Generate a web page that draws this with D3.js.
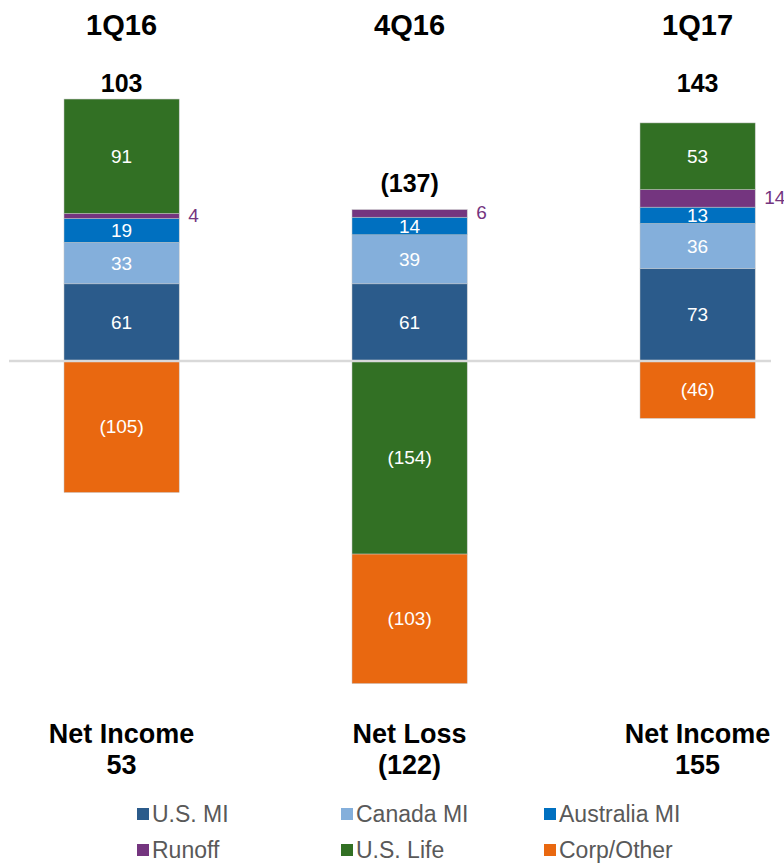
<!DOCTYPE html>
<html><head><meta charset="utf-8">
<script src="https://cdn.jsdelivr.net/npm/d3@7"></script>
<style>
html,body{margin:0;padding:0;background:#fff;}
svg{display:block;}
</style></head>
<body>
<svg id="chart" width="784" height="863"></svg>
<script>
// ---- data ----
const periods = ["1Q16", "4Q16", "1Q17"];
const seriesNames = ["U.S. MI", "Canada MI", "Australia MI", "Runoff", "U.S. Life", "Corp/Other"];
const seriesColors = ["#2b5b8b", "#84afdb", "#0070c0", "#74357f", "#327024", "#e96810"];
const usMI = [61, 61, 73];
const canadaMI = [33, 39, 36];
const australiaMI = [19, 14, 13];
const runoff = [4, 6, 14];
const usLife = [91, -154, 53];
const corpOther = [-105, -103, -46];
const resultLabels = ["Net Income", "Net Loss", "Net Income"];
const resultValues = [53, -122, 155];

const seriesValues = [usMI, canadaMI, australiaMI, runoff, usLife, corpOther];
const rows = periods.map((p, i) => {
  const r = {period: p};
  seriesNames.forEach((s, j) => r[s] = seriesValues[j][i]);
  return r;
});
const totals = periods.map((p, i) => d3.sum(seriesValues, s => s[i]));

const fmt = v => v < 0 ? "(" + Math.abs(v) + ")" : String(v);

const svg = d3.select("#chart");
const bold = "'Liberation Sans',Arial,sans-serif";
const sans = "'Liberation Sans',Arial,sans-serif";

const x = d3.scaleBand().domain(periods).range([-22.4, 841.6]).paddingInner(0.6).paddingOuter(0.3);
const y = d3.scaleLinear().domain([-260, 220]).range([360.5 + 260 * 1.257, 360.5 - 220 * 1.257]);

const stack = d3.stack().keys(seriesNames).offset(d3.stackOffsetDiverging);
const layers = stack(rows);

const color = d3.scaleOrdinal().domain(seriesNames).range(seriesColors);

const g = svg.append("g");
layers.forEach((layer) => {
  const key = layer.key;
  g.selectAll(null).data(layer).enter().append("rect")
    .attr("x", d => x(d.data.period))
    .attr("width", x.bandwidth())
    .attr("y", d => y(Math.max(d[0], d[1])))
    .attr("height", d => Math.abs(y(d[0]) - y(d[1])))
    .attr("fill", color(key))
    .attr("stroke", "#c4c4c4")
    .attr("stroke-width", 0.5);
});

// baseline
svg.append("line")
  .attr("x1", 9).attr("x2", 771)
  .attr("y1", y(0) + 0.5).attr("y2", y(0) + 0.5)
  .attr("stroke", "#d9d9d9").attr("stroke-width", 2.4);

// segment labels
layers.forEach((layer) => {
  const key = layer.key;
  layer.forEach(d => {
    const v = d.data[key];
    const cy = (y(d[0]) + y(d[1])) / 2;
    if (key === "Runoff") {
      svg.append("text")
        .attr("x", x(d.data.period) + x.bandwidth() + 9)
        .attr("y", cy - 1)
        .attr("dy", "0.35em")
        .attr("fill", "#74357f")
        .attr("font-family", sans)
        .attr("font-size", 19)
        .text(fmt(v));
    } else {
      svg.append("text")
        .attr("x", x(d.data.period) + x.bandwidth() / 2)
        .attr("y", cy)
        .attr("dy", "0.35em")
        .attr("text-anchor", "middle")
        .attr("fill", "#fff")
        .attr("font-family", sans)
        .attr("font-size", 19)
        .text(fmt(v));
    }
  });
});

// period titles
svg.selectAll(null).data(periods).enter().append("text")
  .attr("x", d => x(d) + x.bandwidth() / 2)
  .attr("y", 35)
  .attr("text-anchor", "middle")
  .attr("font-family", bold).attr("font-weight", "bold").attr("font-size", 29)
  .attr("fill", "#000")
  .text(d => d);

// totals
const tops = periods.map((p, i) => y(d3.max(layers, l => l[i][1])));
svg.selectAll(null).data(periods).enter().append("text")
  .attr("x", d => x(d) + x.bandwidth() / 2)
  .attr("y", (d, i) => totals[i] >= 0 ? 92 : tops[i] - 18)
  .attr("text-anchor", "middle")
  .attr("font-family", bold).attr("font-weight", "bold").attr("font-size", 25)
  .attr("fill", "#000")
  .text((d, i) => fmt(totals[i]));

// result labels
svg.selectAll(null).data(periods).enter().append("text")
  .attr("x", d => x(d) + x.bandwidth() / 2)
  .attr("y", 743)
  .attr("text-anchor", "middle")
  .attr("font-family", bold).attr("font-weight", "bold").attr("font-size", 27)
  .attr("fill", "#000")
  .text((d, i) => resultLabels[i]);
svg.selectAll(null).data(periods).enter().append("text")
  .attr("x", d => x(d) + x.bandwidth() / 2)
  .attr("y", 774)
  .attr("text-anchor", "middle")
  .attr("font-family", bold).attr("font-weight", "bold").attr("font-size", 27)
  .attr("fill", "#000")
  .text((d, i) => fmt(resultValues[i]));

// legend
const legendCols = [137, 341, 544];
const legendRows = [813, 849];
const lg = svg.append("g");
seriesNames.forEach((s, i) => {
  const cx = legendCols[i % 3], cy = legendRows[Math.floor(i / 3)];
  lg.append("rect").attr("x", cx).attr("y", cy - 5).attr("width", 12).attr("height", 12)
    .attr("fill", seriesColors[i]);
  lg.append("text").attr("x", cx + 15).attr("y", cy + 1).attr("dy", "0.35em")
    .attr("font-family", sans).attr("font-size", 23).attr("fill", "#595959")
    .text(s);
});
</script>
</body></html>
